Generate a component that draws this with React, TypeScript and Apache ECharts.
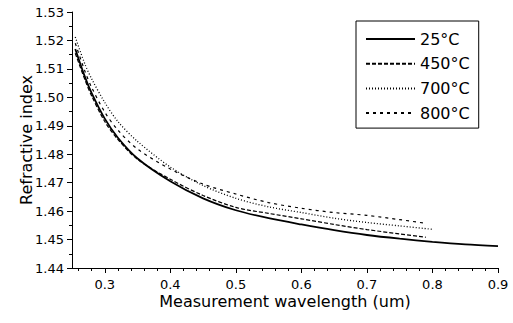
import React, { useEffect, useRef } from "react";
import * as echarts from "echarts";

const seriesNames = ["25°C", "450°C", "700°C", "800°C"];

const wl25 = [0.255, 0.27, 0.28, 0.3, 0.32, 0.35, 0.4, 0.45, 0.5, 0.55, 0.6, 0.65, 0.7, 0.75, 0.8, 0.85, 0.9];
const n25 = [1.517, 1.507, 1.5015, 1.4925, 1.4858, 1.4785, 1.4705, 1.4645, 1.4603, 1.4575, 1.4553, 1.4533, 1.4516, 1.4503, 1.4492, 1.4483, 1.4477];

const wl450 = [0.255, 0.27, 0.28, 0.3, 0.32, 0.35, 0.4, 0.45, 0.5, 0.55, 0.6, 0.65, 0.7, 0.75, 0.79];
const n450 = [1.5155, 1.506, 1.5005, 1.4915, 1.4852, 1.4782, 1.4712, 1.4655, 1.4613, 1.4592, 1.4573, 1.4553, 1.4535, 1.452, 1.4508];

const wl700 = [0.255, 0.27, 0.28, 0.3, 0.32, 0.35, 0.4, 0.45, 0.5, 0.55, 0.6, 0.65, 0.7, 0.75, 0.8];
const n700 = [1.5212, 1.5115, 1.5065, 1.4982, 1.4915, 1.4845, 1.4755, 1.469, 1.4645, 1.4615, 1.4595, 1.4575, 1.456, 1.4548, 1.4536];

const wl800 = [0.255, 0.27, 0.28, 0.3, 0.32, 0.35, 0.4, 0.45, 0.5, 0.55, 0.6, 0.65, 0.7, 0.75, 0.79];
const n800 = [1.519, 1.509, 1.5035, 1.4948, 1.4885, 1.4818, 1.4748, 1.4695, 1.466, 1.463, 1.461, 1.4595, 1.4585, 1.457, 1.4557];

const xMajorTicks = [0.3, 0.4, 0.5, 0.6, 0.7, 0.8, 0.9];
const xMinorTicks = [0.26, 0.28, 0.32, 0.34, 0.36, 0.38, 0.42, 0.44, 0.46, 0.48, 0.52, 0.54, 0.56, 0.58, 0.62, 0.64, 0.66, 0.68, 0.72, 0.74, 0.76, 0.78, 0.82, 0.84, 0.86, 0.88];

const xTitle = "Measurement wavelength (um)";
const yTitle = "Refractive index";

const zip = (xs: number[], ys: number[]) => xs.map((x, i) => [x, ys[i]]);

const FONT = "DejaVu Sans";

export default function App() {
  const ref = useRef<HTMLDivElement>(null);
  useEffect(() => {
    document.body.style.margin = "0";
    if (!ref.current) return;
    const chart = echarts.init(ref.current, null, { renderer: "svg" });
    const lineStyles = [
      { color: "#000", width: 1.8, type: "solid" as any },
      { color: "#000", width: 1.2, type: [4, 2] as any },
      { color: "#000", width: 1.3, type: [1, 2] as any },
      { color: "#000", width: 1.2, type: [3, 4] as any },
    ];
    const datasets = [zip(wl25, n25), zip(wl450, n450), zip(wl700, n700), zip(wl800, n800)];
    chart.setOption({
      animation: false,
      backgroundColor: "#fff",
      grid: { left: 72, right: 15, top: 12, bottom: 55 },
      legend: {
        orient: "vertical",
        left: 356,
        top: 21,
        padding: [9, 9, 6, 9],
        itemWidth: 49,
        itemHeight: 18,
        itemGap: 6.7,
        borderColor: "#000",
        borderWidth: 1,
        itemStyle: { opacity: 0 },
        textStyle: { fontFamily: FONT, fontSize: 16, color: "#000", lineHeight: 18 },
        data: seriesNames,
      },
      xAxis: [
        {
          type: "value",
          min: 0.25,
          max: 0.9,
          name: xTitle,
          nameLocation: "middle",
          nameGap: 25,
          nameMoveOverlap: false,
          nameTextStyle: { fontFamily: FONT, fontSize: 16, color: "#000" },
          axisLine: { lineStyle: { color: "#000", width: 1 } },
          axisTick: { show: true, length: 5, customValues: xMajorTicks, lineStyle: { color: "#000" } },
          axisLabel: {
            customValues: xMajorTicks,
            fontFamily: FONT,
            fontSize: 13,
            color: "#000",
            margin: 10,
            formatter: (v: number) => v.toFixed(1),
          },
          splitLine: { show: false },
        },
        {
          type: "value",
          min: 0.25,
          max: 0.9,
          position: "bottom",
          axisLine: { show: false },
          axisTick: { show: true, length: 3, customValues: xMinorTicks, lineStyle: { color: "#000" } },
          axisLabel: { show: false },
          splitLine: { show: false },
        },
      ],
      yAxis: {
        type: "value",
        min: 1.44,
        max: 1.53,
        interval: 0.01,
        name: yTitle,
        nameLocation: "middle",
        nameGap: 38,
        nameMoveOverlap: false,
        nameTextStyle: { fontFamily: FONT, fontSize: 16, color: "#000" },
        axisLine: { show: true, lineStyle: { color: "#000", width: 1 } },
        axisTick: { show: true, length: 5, lineStyle: { color: "#000" } },
        minorTick: { show: true, splitNumber: 2, length: 3, lineStyle: { color: "#000" } },
        axisLabel: {
          fontFamily: FONT,
          fontSize: 13,
          color: "#000",
          margin: 8,
          formatter: (v: number) => v.toFixed(2),
        },
        splitLine: { show: false },
      },
      series: seriesNames.map((name, i) => ({
        name,
        type: "line",
        xAxisIndex: 0,
        data: datasets[i],
        smooth: 0.3,
        showSymbol: false,
        symbol: "none",
        lineStyle: lineStyles[i],
        itemStyle: { color: lineStyles[i].color },
        z: 10 - i,
      })),
    });
    return () => chart.dispose();
  }, []);
  return <div ref={ref} style={{ width: 513, height: 323 }} />;
}
